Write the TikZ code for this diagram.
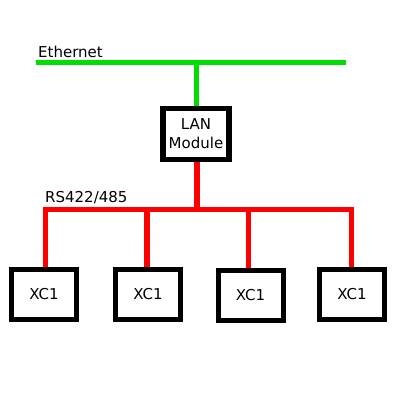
\documentclass[tikz,border=0pt]{standalone}
\usepackage{fontspec}
\setmainfont{DejaVu Sans}
\definecolor{ethgreen}{RGB}{0,221,0}
\definecolor{busred}{RGB}{255,0,0}
\begin{document}
\begin{tikzpicture}[x=1pt,y=-1pt,
  devbox/.style={draw=black,line width=5pt,fill=white,minimum width=65pt,minimum height=50pt,inner sep=0pt,font=\fontsize{15}{19}\selectfont,align=center},
  ethline/.style={draw=ethgreen,line width=5pt},
  busline/.style={draw=busred,line width=5.5pt},
  lbl/.style={font=\fontsize{15}{17}\selectfont,anchor=base west,inner sep=0pt}]
\useasboundingbox[fill=white] (0,0) rectangle (400,400);
% Ethernet
\coordinate (eL) at (36,62.5);
\coordinate (eR) at (346,62.5);
\coordinate (eT) at (196,62.5);
\draw[ethline] (eL) -- (eR);
\node[lbl] (ethlbl) at (38,57) {Ethernet};
% LAN module
\node[devbox,minimum width=66pt,minimum height=51pt,line width=5.5pt] (lan) at (196,134) {LAN\\Module};
\draw[ethline] (eT) -- (lan.north);
% RS bus
\coordinate (bL) at (43,209.5);
\coordinate (bR) at (354,209.5);
\coordinate (bT) at (197,209.5);
\draw[busline] (bL) -- (bR);
\draw[busline] (lan.south -| bT) -- (bT);
\node[lbl] (rslbl) at (45,202) {RS422/485};
% XC1 boxes
\node[devbox] (x1) at (44,294) {XC1};
\node[devbox] (x2) at (148,294) {XC1};
\node[devbox] (x3) at (250.5,295) {XC1};
\node[devbox] (x4) at (352,294.5) {XC1};
\coordinate (d1) at (45.5,209.5);
\coordinate (d2) at (147,209.5);
\coordinate (d3) at (248.5,209.5);
\coordinate (d4) at (351.5,209.5);
\draw[busline] (d1) -- (d1 |- x1.north);
\draw[busline] (d2) -- (d2 |- x2.north);
\draw[busline] (d3) -- (d3 |- x3.north);
\draw[busline] (d4) -- (d4 |- x4.north);
\end{tikzpicture}
\end{document}
